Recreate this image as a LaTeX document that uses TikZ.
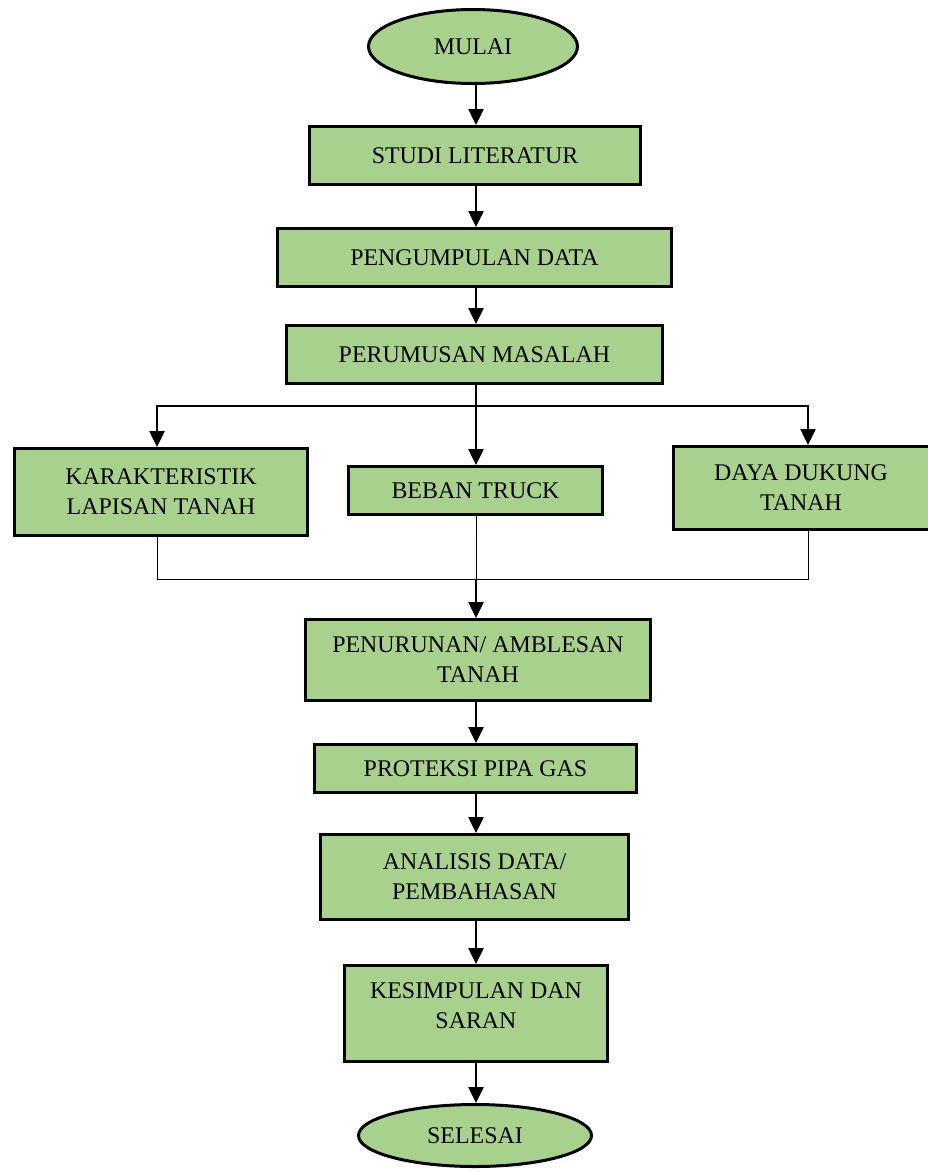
\documentclass[tikz,border=0pt]{standalone}
\usepackage{fontspec}
\setmainfont{Liberation Serif}
\usetikzlibrary{arrows.meta,shapes.geometric}
\definecolor{boxgreen}{HTML}{A9D18E}
\begin{document}
\begin{tikzpicture}[x=1pt,y=-1pt,
  txt/.style={align=center, font=\fontsize{23.9}{30}\selectfont},
  box/.style={txt, draw=black, line width=3pt, fill=boxgreen, rectangle, inner sep=0pt},
  term/.style={box, ellipse},
  arr/.style={line width=2.5pt, -{Triangle[length=16pt,width=15pt]}},
  joinline/.style={line width=1pt}]
\useasboundingbox (0,0) rectangle (928,1171);
% nodes
\node[term, minimum width=209, minimum height=74] (mulai) at (473,46.5) {MULAI};
\node[box, minimum width=331, minimum height=58] (studi) at (475,155.5) {STUDI LITERATUR};
\node[box, minimum width=394, minimum height=58] (data) at (474.5,257.5) {PENGUMPULAN DATA};
\node[box, minimum width=376, minimum height=58] (rumus) at (474.5,354.5) {PERUMUSAN MASALAH};
\node[box, minimum width=293, minimum height=87] (karak) at (161,492) {KARAKTERISTIK\\LAPISAN TANAH};
\node[box, minimum width=254, minimum height=48] (beban) at (475.5,490.5) {BEBAN TRUCK};
\node[box, minimum width=256, minimum height=83] (daya) at (801,488) {DAYA DUKUNG\\TANAH};
\node[box, minimum width=345, minimum height=81] (turun) at (478,660) {PENURUNAN/ AMBLESAN\\TANAH};
\node[box, minimum width=322, minimum height=48] (proteksi) at (475.5,768.5) {PROTEKSI PIPA GAS};
\node[box, minimum width=308, minimum height=85] (analisis) at (474.5,877) {ANALISIS DATA/\\PEMBAHASAN};
\node[box, minimum width=263, minimum height=96,
  label={[txt, yshift=8pt]center:KESIMPULAN DAN\\SARAN}] (kesimpulan) at (476,1013.5) {};
\node[term, minimum width=233, minimum height=62] (selesai) at (475,1135.5) {SELESAI};
% helper coordinates
\coordinate (spine) at (476,0);
\coordinate (lx) at (157,0);
\coordinate (rx) at (808,0);
\coordinate (split) at (476,406);
\coordinate (join) at (476,579);
% connectors
\draw[arr] (mulai.south -| spine) -- (studi.north -| spine);
\draw[arr] (studi.south -| spine) -- (data.north -| spine);
\draw[arr] (data.south -| spine) -- (rumus.north -| spine);
\draw[arr] (rumus.south -| spine) -- (beban.north -| spine);
\draw[arr] (split) -| (karak.north -| lx);
\draw[arr] (split) -| (daya.north -| rx);
\draw[joinline] (karak.south -| lx) -- (join -| lx) -- (join -| rx) -- (daya.south -| rx);
\draw[joinline] (beban.south -| spine) -- (join);
\draw[arr] (join) -- (turun.north -| spine);
\draw[arr] (turun.south -| spine) -- (proteksi.north -| spine);
\draw[arr] (proteksi.south -| spine) -- (analisis.north -| spine);
\draw[arr] (analisis.south -| spine) -- (kesimpulan.north -| spine);
\draw[arr] (kesimpulan.south -| spine) -- (selesai.north -| spine);
\end{tikzpicture}
\end{document}
